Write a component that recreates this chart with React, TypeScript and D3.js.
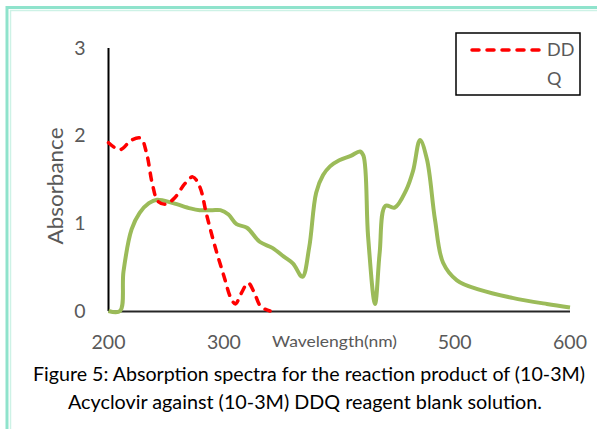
import React, { useEffect, useRef } from 'react';
import * as d3 from 'd3';

// DD series (red dashed)
const ddWave = [200, 210, 220, 228, 233, 238, 243, 250, 258, 266, 273, 279, 285, 292, 300, 306, 310, 315, 321, 326, 332, 340];
const ddAbs = [1.92, 1.84, 1.95, 1.97, 1.8, 1.45, 1.25, 1.22, 1.3, 1.45, 1.53, 1.42, 1.1, 0.75, 0.4, 0.15, 0.08, 0.2, 0.32, 0.22, 0.05, 0.0];

// Q series (green)
const qWave = [200, 210, 213, 220, 227, 235, 242, 256, 271, 279, 290, 297, 304, 311, 320, 331, 342, 352, 360, 368, 374, 380, 386, 392, 400, 410, 418, 421, 425, 431, 435, 440, 448, 458, 464, 470, 476, 483, 490, 502, 522, 550, 580, 600];
const qAbs = [0.0, 0.0, 0.45, 0.93, 1.12, 1.23, 1.27, 1.23, 1.17, 1.15, 1.15, 1.15, 1.1, 0.99, 0.95, 0.79, 0.72, 0.62, 0.54, 0.39, 0.73, 1.35, 1.55, 1.65, 1.72, 1.77, 1.82, 1.77, 0.85, 0.08, 0.66, 1.2, 1.18, 1.38, 1.6, 1.95, 1.73, 1.04, 0.55, 0.35, 0.24, 0.15, 0.08, 0.04];

const xTicks = [200, 300, 500, 600];
const yTicks = [0, 1, 2, 3];

const W = 597, H = 429;

export default function App() {
  const ref = useRef<SVGSVGElement>(null);

  useEffect(() => {
    const svg = d3.select(ref.current);
    svg.selectAll('*').remove();

    const x = d3.scaleLinear().domain([200, 600]).range([108.5, 570]);
    const y = d3.scaleLinear().domain([0, 3]).range([311, 48]);
    const grey = '#595959';
    const font = 'Lato, "Open Sans", sans-serif';

    // page border
    svg.append('path').attr('d', `M7,${H} V7.5 H${W}`).attr('fill', 'none').attr('stroke', '#8fe3cc').attr('stroke-width', 3);
    svg.append('path').attr('d', `M10.5,${H} V10.5 H${W}`).attr('fill', 'none').attr('stroke', '#cdf2e6').attr('stroke-width', 1.5);

    // axes
    svg.append('line').attr('x1', x(200)).attr('x2', x(200)).attr('y1', 48).attr('y2', y(0))
      .attr('stroke', '#000').attr('stroke-width', 2);
    svg.append('line').attr('x1', x(200)).attr('x2', x(600)).attr('y1', y(0) + 0.5).attr('y2', y(0) + 0.5)
      .attr('stroke', '#262626').attr('stroke-width', 2);

    svg.selectAll('.ytick').data(yTicks).join('text')
      .attr('x', 80).attr('y', d => y(d)).attr('dy', '0.35em')
      .attr('text-anchor', 'middle').attr('font-family', font).attr('font-size', 19.5).attr('fill', grey)
      .text(d => d);

    svg.selectAll('.xtick').data(xTicks).join('text')
      .attr('x', d => x(d)).attr('y', 342).attr('dy', '0.35em')
      .attr('text-anchor', 'middle').attr('font-family', font).attr('font-size', 19.5).attr('fill', grey)
      .text(d => d);

    svg.append('text').attr('x', 272).attr('y', 342).attr('dy', '0.35em')
      .attr('font-family', font).attr('font-size', 15).attr('fill', grey)
      .attr('textLength', 125).attr('lengthAdjust', 'spacingAndGlyphs')
      .text('Wavelength(nm)');

    svg.append('text').attr('transform', 'translate(55,186) rotate(-90)').attr('dy', '0.35em')
      .attr('text-anchor', 'middle').attr('font-family', font).attr('font-size', 22).attr('fill', grey)
      .attr('textLength', 117).attr('lengthAdjust', 'spacingAndGlyphs')
      .text('Absorbance');

    const line = d3.line<[number, number]>()
      .curve(d3.curveCatmullRom.alpha(0.5));

    const qPts = qWave.map((w, i) => [x(w), y(qAbs[i])] as [number, number]);
    const ddPts = ddWave.map((w, i) => [x(w), y(ddAbs[i])] as [number, number]);

    svg.append('path').attr('d', line(qPts)).attr('fill', 'none')
      .attr('stroke', '#9bbb59').attr('stroke-width', 4).attr('stroke-linejoin', 'round');
    svg.append('path').attr('d', line(ddPts)).attr('fill', 'none')
      .attr('stroke', '#ff0000').attr('stroke-width', 3.5).attr('stroke-dasharray', '7,8')
      .attr('stroke-linecap', 'round');

    // legend
    svg.append('rect').attr('x', 456).attr('y', 33).attr('width', 124).attr('height', 62)
      .attr('fill', '#fff').attr('stroke', '#000').attr('stroke-width', 1.5);
    svg.append('line').attr('x1', 472).attr('x2', 540).attr('y1', 50).attr('y2', 50)
      .attr('stroke', '#ff0000').attr('stroke-width', 3.5).attr('stroke-dasharray', '7,8').attr('stroke-linecap', 'round');
    svg.append('text').attr('x', 547).attr('y', 50).attr('dy', '0.35em')
      .attr('font-family', font).attr('font-size', 18).attr('fill', grey).text('DD');
    svg.append('text').attr('x', 547).attr('y', 79).attr('dy', '0.35em')
      .attr('font-family', font).attr('font-size', 18).attr('fill', grey).text('Q');

    // caption
    svg.append('text').attr('x', 33).attr('y', 374).attr('dy', '0.35em')
      .attr('font-family', font).attr('font-size', 19.5).attr('fill', '#000')
      .attr('textLength', 552).attr('lengthAdjust', 'spacingAndGlyphs')
      .text('Figure 5: Absorption spectra for the reaction product of (10-3M)');
    svg.append('text').attr('x', 68).attr('y', 402).attr('dy', '0.35em')
      .attr('font-family', font).attr('font-size', 19.5).attr('fill', '#000')
      .attr('textLength', 474).attr('lengthAdjust', 'spacingAndGlyphs')
      .text('Acyclovir against (10-3M) DDQ reagent blank solution.');
  }, []);

  return (
    <svg ref={ref} width={W} height={H} style={{ position: 'absolute', left: 0, top: 0, background: '#fff' }} />
  );
}
